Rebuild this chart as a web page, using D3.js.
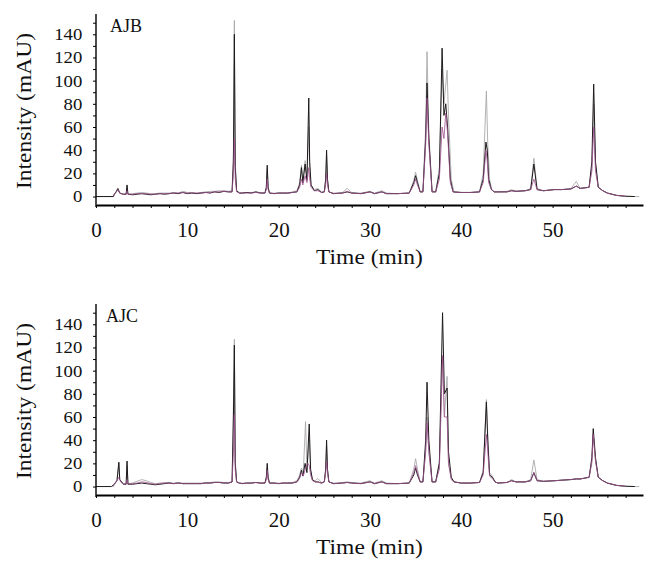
<!DOCTYPE html>
<html>
<head>
<meta charset="utf-8">
<script src="https://cdn.jsdelivr.net/npm/d3@7"></script>
<style>
  body { margin: 0; background: #fff; }
  svg { display: block; }
  text { font-family: "Liberation Serif", "Times New Roman", serif; fill: #111; }
</style>
</head>
<body>
<script>
// Chromatogram traces: [time (min), intensity (mAU)]
const panelNames = ["AJB", "AJC"];
const xTickLabels = [0, 10, 20, 30, 40, 50];
const yTickLabels = [0, 20, 40, 60, 80, 100, 120, 140];

const ajbBlack = [[0,0],[1.9,0],[2.0,2],[2.2,4],[2.4,7],[2.6,3],[3.0,2],[3.3,2],[3.4,10],[3.5,2],[4.0,1.5],[4.5,2],[5.0,2.5],[5.5,2],[6.0,1.5],[6.5,2],[7.0,2.5],[7.5,2],[8.0,2.5],[8.5,3],[9.0,2.5],[9.5,3.5],[10.0,2.5],[10.5,3],[11.0,2.5],[11.5,3],[12.0,3.5],[12.5,3],[13.0,4],[13.5,3.5],[14.0,4.5],[14.5,4],[14.9,4],[15.05,30],[15.15,140],[15.25,25],[15.4,5],[15.7,3],[16.0,3],[16.5,3.5],[17.0,3],[17.5,4],[18.0,3],[18.5,3],[18.65,8],[18.75,27],[18.85,8],[19.0,3],[19.5,2.5],[20.0,3],[20.5,3],[21.0,3],[21.5,3.5],[22.0,4],[22.3,10],[22.5,25],[22.65,12],[22.9,28],[23.1,14],[23.3,85],[23.4,30],[23.55,10],[23.9,5],[24.3,6],[24.7,3.5],[25.0,4],[25.15,15],[25.25,40],[25.35,15],[25.5,4],[26.0,2.5],[27.0,3],[27.5,4],[28.0,3],[29.0,2.5],[30.0,4],[30.5,2.5],[31.3,4],[31.8,2.5],[33.0,2.5],[34.3,3],[34.8,12],[35.0,18],[35.2,12],[35.5,4],[35.8,4],[36.1,50],[36.25,98],[36.45,50],[36.8,4],[37.2,4],[37.6,20],[37.9,128],[38.1,70],[38.3,80],[38.5,60],[38.8,15],[39.1,4],[40.0,3.5],[41.0,3.5],[42.0,4],[42.4,15],[42.7,47],[42.85,40],[43.0,15],[43.3,6],[43.6,4],[44.0,4],[45.0,4],[45.5,5],[46.0,4.5],[47.0,5],[47.6,6],[47.95,28],[48.3,6],[49.0,5],[50.2,6],[51.0,6],[52.0,6.5],[52.6,9],[53.0,7],[54.0,8],[54.3,30],[54.5,97],[54.7,30],[55.0,8],[55.5,5],[56.0,3],[57.0,1],[58.0,0.3],[59.0,0]];

const ajbGray = [[0,0],[1.9,0],[2.0,2],[2.2,4],[2.4,6],[2.6,3],[3.0,2],[3.3,2],[3.4,8],[3.5,2],[4.0,2.5],[4.5,3],[5.0,3.5],[5.5,3],[6.0,2.5],[6.5,2.5],[7.0,3],[7.5,3],[8.0,3],[8.5,3.5],[9.0,3],[9.5,4.5],[10.0,3.5],[10.5,3.5],[11.0,3],[11.5,3.5],[12.0,4],[12.5,4.5],[13.0,4.5],[13.5,5],[14.0,5],[14.5,4.5],[14.9,5],[15.05,40],[15.15,152],[15.25,30],[15.4,5],[15.7,3.5],[16.0,3],[16.5,3.5],[17.0,3.5],[17.5,4],[18.0,3.5],[18.5,3],[18.65,7],[18.75,24],[18.85,7],[19.0,3],[19.5,3],[20.0,3],[20.5,3],[21.0,3],[21.5,4],[22.0,5],[22.3,12],[22.5,27],[22.65,14],[22.9,31],[23.1,16],[23.3,60],[23.4,25],[23.55,10],[23.9,6],[24.3,7],[24.7,4],[25.0,4],[25.15,14],[25.25,35],[25.35,14],[25.5,4],[26.0,3],[27.0,3.5],[27.5,7],[28.0,3.5],[29.0,3],[30.0,4.5],[30.5,3],[31.3,5],[31.8,3],[33.0,2.5],[34.3,3],[34.8,14],[35.0,21],[35.2,14],[35.5,4],[35.8,5],[36.1,60],[36.25,125],[36.45,55],[36.8,5],[37.2,4],[37.6,25],[37.9,110],[38.1,80],[38.45,109],[38.6,70],[38.9,15],[39.2,4],[40.0,3.5],[41.0,3.5],[42.0,4],[42.4,20],[42.75,91],[42.9,45],[43.1,15],[43.3,7],[43.6,4],[44.0,4],[45.0,4.5],[45.5,6],[46.0,4.5],[47.0,5],[47.6,7],[47.95,33],[48.3,7],[49.0,5],[50.2,6],[51.0,6],[52.0,7],[52.6,13],[53.0,7],[54.0,8],[54.3,25],[54.5,80],[54.7,28],[55.0,8],[55.5,5],[56.0,3],[57.0,1],[58.0,0],[59.5,0]];

const ajbPurple = [[1.9,0],[2.0,2],[2.2,3.5],[2.4,6],[2.6,3],[3.0,2],[3.3,2],[3.4,5],[3.5,2],[4.0,2],[4.5,2.5],[5.0,2.5],[5.5,2.5],[6.0,2],[6.5,2],[7.0,2.5],[7.5,2.5],[8.0,2.5],[8.5,3],[9.0,3],[9.5,3.5],[10.0,3],[10.5,3],[11.0,3],[11.5,3],[12.0,3.5],[12.5,3.5],[13.0,4],[13.5,4],[14.0,4.5],[14.5,4],[14.9,4],[15.05,20],[15.15,50],[15.25,15],[15.4,4],[15.7,3],[16.0,3],[16.5,3],[17.0,3],[17.5,3.5],[18.0,3],[18.5,3],[18.65,6],[18.75,15],[18.85,6],[19.0,3],[19.5,2.5],[20.0,3],[20.5,3],[21.0,3],[21.5,3.5],[22.0,4],[22.3,8],[22.5,15],[22.65,10],[22.9,18],[23.1,12],[23.3,25],[23.4,15],[23.55,8],[23.9,5],[24.3,5],[24.7,3.5],[25.0,4],[25.15,10],[25.25,20],[25.35,10],[25.5,4],[26.0,2.5],[27.0,3],[27.5,4.5],[28.0,3],[29.0,2.5],[30.0,4],[30.5,2.5],[31.3,4],[31.8,2.5],[33.0,2.5],[34.3,3],[34.8,10],[35.0,15],[35.2,10],[35.5,4],[35.8,4],[36.1,45],[36.25,85],[36.45,45],[36.8,4],[37.2,4],[37.6,15],[37.9,60],[38.1,50],[38.3,72],[38.5,55],[38.8,12],[39.1,4],[40.0,3.5],[41.0,3.5],[42.0,4],[42.4,12],[42.7,40],[42.85,30],[43.0,12],[43.3,6],[43.6,4],[44.0,4],[45.0,4],[45.5,5],[46.0,4.5],[47.0,5],[47.6,6],[47.95,15],[48.3,6],[49.0,5],[50.2,6],[51.0,6],[52.0,6.5],[52.6,9],[53.0,7],[54.0,8],[54.3,22],[54.5,60],[54.7,22],[55.0,8],[55.5,5],[56.0,3],[57.0,1],[58.0,0.3]];

const ajcBlack = [[0,0],[1.7,0],[2.0,2],[2.3,5],[2.5,21],[2.6,6],[3.0,2],[3.3,2],[3.4,22],[3.5,2],[4.0,2],[4.5,2.5],[5.0,3],[5.5,2.5],[6.0,2],[6.5,1.5],[7.0,2],[7.5,2.5],[8.0,3],[8.5,2.5],[9.0,3],[9.5,2.5],[10.0,2.5],[10.5,2.5],[11.0,2.5],[11.5,2.5],[12.0,3],[12.5,3],[13.0,3.5],[13.5,3.5],[14.0,3],[14.5,3],[14.9,4],[15.05,60],[15.15,122],[15.25,20],[15.4,4],[15.7,3],[16.0,2.5],[16.5,3],[17.0,3],[17.5,3.5],[18.0,3],[18.5,3],[18.65,8],[18.75,20],[18.85,8],[19.0,3],[19.5,3],[20.0,2.5],[20.5,3],[21.0,3],[21.5,3],[22.0,4],[22.3,8],[22.5,14],[22.65,9],[22.9,20],[23.1,12],[23.35,54],[23.5,15],[23.7,6],[24.0,4],[24.3,4],[24.7,3],[25.0,4],[25.15,15],[25.25,40],[25.35,15],[25.5,4],[26.0,2.5],[27.0,3],[27.5,3.5],[28.0,3],[29.0,2.5],[30.0,4],[30.5,2.5],[31.3,4],[31.8,2.5],[33.0,2.5],[34.3,3],[34.8,10],[35.0,16],[35.2,10],[35.5,4],[35.8,4],[36.1,40],[36.25,90],[36.45,40],[36.8,4],[37.2,4],[37.6,20],[37.95,150],[38.15,80],[38.45,85],[38.6,30],[38.9,8],[39.2,4],[40.0,3],[41.0,3],[42.0,3.5],[42.4,12],[42.75,73],[42.9,40],[43.1,10],[43.4,8],[43.7,4],[44.0,3],[45.0,3.5],[45.5,5],[46.0,4],[47.0,4],[47.6,5],[47.95,12],[48.3,5],[49.0,4.5],[50.2,5],[51.0,5.5],[52.0,6],[52.6,6.5],[53.0,6.5],[54.0,8],[54.3,25],[54.45,50],[54.7,25],[55.0,8],[55.5,5],[56.0,3],[57.0,1],[58.0,0.3],[59.0,0]];

const ajcGray = [[1.8,0],[2.0,2],[2.3,6],[2.5,20],[2.6,6],[3.0,2.5],[3.3,2.5],[3.4,18],[3.5,2.5],[4.0,3],[4.5,4.5],[5.0,6],[5.5,5],[6.0,3.5],[6.5,2.5],[7.0,3],[7.5,3.5],[8.0,3.5],[8.5,3],[9.0,3.5],[9.5,3],[10.0,3],[10.5,3],[11.0,3],[11.5,3],[12.0,3.5],[12.5,3.5],[13.0,4],[13.5,4],[14.0,3.5],[14.5,3.5],[14.9,4],[15.05,70],[15.15,127],[15.25,22],[15.4,4],[15.7,3],[16.0,3],[16.5,3],[17.0,3],[17.5,3.5],[18.0,3],[18.5,3],[18.65,7],[18.75,16],[18.85,7],[19.0,3],[19.5,3],[20.0,3],[20.5,3],[21.0,3],[21.5,3.5],[22.0,5],[22.3,10],[22.5,16],[22.7,12],[22.95,56],[23.1,15],[23.35,40],[23.5,12],[23.7,6],[24.0,5],[24.3,7],[24.7,3.5],[25.0,4],[25.15,14],[25.25,35],[25.35,14],[25.5,4],[26.0,3],[27.0,3.5],[27.5,4],[28.0,3.5],[29.0,3],[30.0,5],[30.5,3],[31.3,5],[31.8,3],[33.0,2.5],[34.3,3],[34.8,15],[35.0,24],[35.2,15],[35.5,4],[35.8,4],[36.1,30],[36.25,60],[36.45,30],[36.8,4],[37.2,4],[37.6,22],[37.95,110],[38.15,60],[38.45,95],[38.6,20],[38.9,8],[39.2,4],[40.0,3],[41.0,3],[42.0,3.5],[42.4,14],[42.75,75],[42.9,45],[43.1,12],[43.4,9],[43.7,4],[44.0,3],[45.0,3.5],[45.5,6],[46.0,4],[47.0,4],[47.6,6],[47.95,23],[48.3,6],[49.0,4.5],[50.2,5],[51.0,5.5],[52.0,6],[52.6,7],[53.0,6.5],[54.0,8],[54.3,20],[54.45,45],[54.7,22],[55.0,8],[55.5,5],[56.0,3],[57.0,1],[58.0,0],[59.5,0]];

const ajcPurple = [[1.9,0],[2.0,2],[2.3,5],[2.5,8],[2.7,4],[3.0,2],[3.3,2],[3.4,6],[3.5,2],[4.0,2.5],[4.5,3],[5.0,4],[5.5,3.5],[6.0,2.5],[6.5,2],[7.0,2.5],[7.5,3],[8.0,3],[8.5,2.5],[9.0,3],[9.5,2.5],[10.0,2.5],[10.5,2.5],[11.0,2.5],[11.5,2.5],[12.0,3],[12.5,3],[13.0,3.5],[13.5,3.5],[14.0,3],[14.5,3],[14.9,4],[15.05,30],[15.15,62],[15.25,14],[15.4,4],[15.7,3],[16.0,2.5],[16.5,3],[17.0,3],[17.5,3.5],[18.0,3],[18.5,3],[18.65,6],[18.75,14],[18.85,6],[19.0,3],[19.5,3],[20.0,2.5],[20.5,3],[21.0,3],[21.5,3],[22.0,4],[22.3,7],[22.5,12],[22.7,9],[22.95,16],[23.2,20],[23.35,18],[23.5,10],[23.7,5],[24.0,4],[24.3,4],[24.7,3],[25.0,4],[25.15,12],[25.25,22],[25.35,12],[25.5,4],[26.0,2.5],[27.0,3],[27.5,3.5],[28.0,3],[29.0,2.5],[30.0,4],[30.5,2.5],[31.3,4],[31.8,2.5],[33.0,2.5],[34.3,3],[34.8,12],[35.0,18],[35.2,12],[35.5,4],[35.8,4],[36.1,30],[36.25,55],[36.45,30],[36.8,4],[37.2,4],[37.6,15],[37.95,113],[38.15,60],[38.45,60],[38.6,20],[38.9,6],[39.2,4],[40.0,3],[41.0,3],[42.0,3.5],[42.4,10],[42.75,45],[42.9,30],[43.1,9],[43.4,7],[43.7,4],[44.0,3],[45.0,3.5],[45.5,5],[46.0,4],[47.0,4],[47.6,5],[47.95,12],[48.3,5],[49.0,4.5],[50.2,5],[51.0,5.5],[52.0,6],[52.6,6.5],[53.0,6.5],[54.0,8],[54.3,22],[54.45,45],[54.7,22],[55.0,8],[55.5,5],[56.0,3],[57.0,1],[58.0,0.3]];

const panels = [
  { name: panelNames[0], traces: [ajbGray, ajbBlack, ajbPurple] },
  { name: panelNames[1], traces: [ajcGray, ajcBlack, ajcPurple] }
];
const traceColors = ["#a9a9a9", "#1e1a1c", "#a0508e"];
const traceWidths = [0.9, 1.0, 0.8];

const width = 658, height = 578;
const panelOffset = 290;
const left = 96, right = 643;

const svg = d3.create("svg").attr("width", width).attr("height", height);

const x = d3.scaleLinear().domain([0, 59.9]).range([left, right]);
const y = d3.scaleLinear().domain([-7.3, 157.5]).range([205, 14]);

panels.forEach((p, i) => {
  const g = svg.append("g").attr("transform", `translate(0,${i * panelOffset})`);

  const line = d3.line().x(d => x(d[0])).y(d => y(d[1]));

  p.traces.forEach((tr, k) => {
    g.append("path")
      .datum(tr)
      .attr("fill", "none")
      .attr("stroke", traceColors[k])
      .attr("stroke-width", traceWidths[k])
      .attr("stroke-linejoin", "round")
      .attr("d", line);
  });

  // x axis: minor ticks every 2 min, labels every 10
  const xAxis = g.append("g")
    .attr("transform", `translate(0,${y(-7.3)})`)
    .call(d3.axisBottom(x).tickValues(d3.range(0, 59, 2)).tickSize(3).tickSizeOuter(0)
      .tickFormat(d => xTickLabels.includes(d) ? d : ""));
  xAxis.select(".domain").attr("stroke", "#000").attr("stroke-width", 2.2);
  xAxis.selectAll(".tick line").attr("stroke", "#000");
  xAxis.selectAll("text")
    .attr("font-family", "Liberation Serif")
    .attr("font-size", 20)
    .attr("y", 18)
    .attr("transform", "scale(1.05,1)")
    .attr("fill", "#111");

  // y axis
  const yAxis = g.append("g")
    .attr("transform", `translate(${left},0)`)
    .call(d3.axisLeft(y).tickValues(d3.range(0, 151, 10)).tickSize(3).tickSizeOuter(0)
      .tickFormat(d => yTickLabels.includes(d) ? d : ""));
  yAxis.select(".domain").attr("stroke", "#000").attr("stroke-width", 1.4)
    .attr("d", `M0,${y(157.5)}V${y(-9)}`);
  yAxis.selectAll(".tick line").attr("stroke", "#000");
  yAxis.selectAll("text")
    .attr("font-family", "Liberation Serif")
    .attr("font-size", 17)
    .attr("x", -12.5)
    .attr("transform", "scale(1.1,1)")
    .attr("fill", "#111");

  g.append("text")
    .attr("transform", `translate(${(left + right) / 2},264) scale(1.12,1)`)
    .attr("text-anchor", "middle")
    .attr("font-size", 21)
    .text("Time (min)");

  g.append("text")
    .attr("transform", `translate(31,${111}) rotate(-90) scale(1.12,1)`)
    .attr("text-anchor", "middle")
    .attr("font-size", 21)
    .text("Intensity (mAU)");

  g.append("text")
    .attr("x", i === 0 ? 110 : 106)
    .attr("y", 32)
    .attr("font-size", 18)
    .text(p.name);
});

document.body.appendChild(svg.node());
</script>
</body>
</html>
